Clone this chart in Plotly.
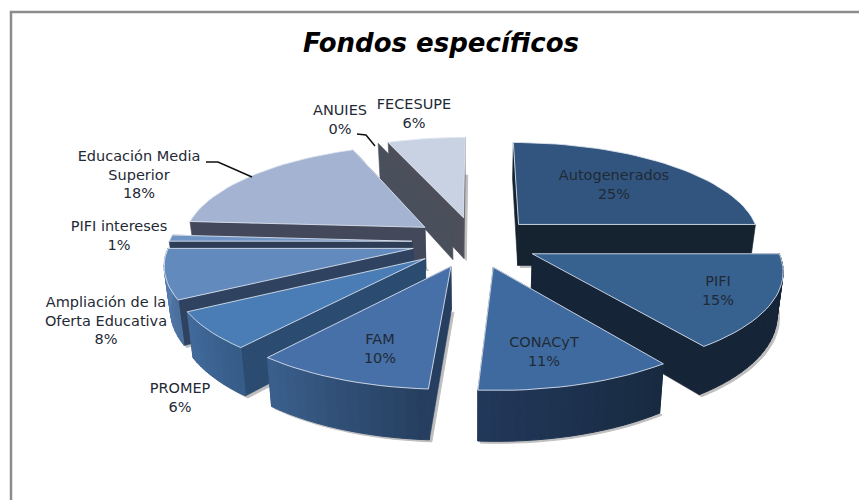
import math
import plotly.graph_objects as go

categorias = ["Autogenerados", "PIFI", "CONACyT", "FAM", "PROMEP",
              "Ampliación de la<br>Oferta Educativa", "PIFI intereses",
              "Educación Media<br>Superior", "ANUIES", "FECESUPE"]
valores = [25, 15, 11, 10, 6, 8, 1, 18, 0, 6]
color_cara = ["#32557f", "#37618f", "#3f6a9f", "#4770a8", "#4a7cb5",
              "#628abd", "#7095c4", "#a3b3d1", "#4a4f5c", "#c8d2e3"]
color_radial = ["#15222f", "#162437", "#1b2c45", "#263f60", "#2b4c70",
                "#2f4360", "#2c3d55", "#43495a", "#4a4f5c", "#4c4f5a"]
lateral_ini = ["#15222f", "#162437", "#22385a", "#3a5f8c", "#416a9a",
               "#5680b2", "#566f90", "#43495a", "#4a4f5c", "#8b93a3"]
lateral_fin = ["#15222f", "#162437", "#172a40", "#263f60", "#365c88",
               "#4a6f9d", "#4a6280", "#43495a", "#4a4f5c", "#8b93a3"]
# label centres (px) for each category
etiqueta_x = [614, 718, 544, 380, 180, 106, 119, 139, 340, 414]
etiqueta_y = [186, 292, 353, 350, 399, 322, 237, 176, 121, 115]

CX, CY, A, B, Q, EXPL, DEPTH, BOT = 475, 242, 243, 98, 0.14, 0.26, 42, 0.98


def proy(u, v, abajo=False):
    w = 1 / (1 - Q * v)
    x, y = A * u * w, B * v * w
    if abajo:
        return CX + x * BOT, CY + y + DEPTH * w
    return CX + x, CY + y


def hexrgb(c):
    return tuple(int(c[i:i + 2], 16) for i in (1, 3, 5))


def mezcla(c1, c2, t):
    a, b = hexrgb(c1), hexrgb(c2)
    return "rgb(%d,%d,%d)" % tuple(round(a[i] + (b[i] - a[i]) * t) for i in range(3))


fig = go.Figure()


def poligono(puntos, relleno, linea=None, ancho=0.6, opacidad=1.0):
    xs = [p[0] for p in puntos] + [puntos[0][0]]
    ys = [p[1] for p in puntos] + [puntos[0][1]]
    fig.add_trace(go.Scatter(x=xs, y=ys, mode="lines", fill="toself", fillcolor=relleno,
                             line=dict(color=linea or relleno, width=ancho),
                             opacity=opacidad, hoverinfo="skip", showlegend=False))


total = sum(valores)
ini = 0.0
rebanadas = []
for i, val in enumerate(valores):
    fin = ini + val / total * 2 * math.pi
    rebanadas.append((i, ini, fin))
    ini = fin

# painter's order: back to front
orden = [0, 9, 8, 7, 6, 5, 4, 1, 3, 2]
BORDE = "rgba(225,232,242,0.85)"
for i in orden:
    _, a0, a1 = rebanadas[i]
    med = (a0 + a1) / 2
    ou, ov = EXPL * math.sin(med), -EXPL * math.cos(med)
    n = max(2, int((a1 - a0) / 0.04))
    angs = [a0 + (a1 - a0) * k / n for k in range(n + 1)]
    rim = [(ou + math.sin(t), ov - math.cos(t)) for t in angs]
    apex = (ou, ov)
    if valores[i] == 0:
        r = rim[0]
        poligono([proy(*apex), proy(*r), proy(*r, True), proy(*apex, True)], color_radial[i])
        continue
    # soft shadow
    sombra = [proy(*apex, True)] + [proy(*p, True) for p in rim]
    poligono([(x + 2.5, y + 2) for x, y in sombra], "#8a8a8a", ancho=1, opacidad=0.55)
    caras = [[apex, rim[0]], [apex, rim[-1]]]
    caras.sort(key=lambda c: c[1][1])
    for p, q in caras:
        poligono([proy(*p), proy(*q), proy(*q, True), proy(*p, True)], color_radial[i])
    for k in range(n):
        # the wall only shows where it faces the viewer
        if -math.cos((angs[k] + angs[k + 1]) / 2) < 0:
            continue
        t = k / max(1, n - 1)
        col = mezcla(lateral_fin[i], lateral_ini[i], t)
        p, q = rim[k], rim[k + 1]
        poligono([proy(*p), proy(*q), proy(*q, True), proy(*p, True)], col, ancho=1)
    poligono([proy(*p) for p in [apex] + rim], color_cara[i], linea=BORDE, ancho=1)

texto = [f"{c}<br>{v}%" for c, v in zip(categorias, valores)]
fig.add_trace(go.Scatter(x=etiqueta_x, y=etiqueta_y, mode="text", text=texto,
                         textfont=dict(family="DejaVu Sans", size=14.5, color="#1f2a36"),
                         hoverinfo="skip", showlegend=False))

guias = [[(206, 162), (218, 162), (252, 177)], [(357, 134), (366, 135), (375, 146)]]
formas = [dict(type="path", path="M11,520 L11,12 L870,12", xref="x", yref="y",
               line=dict(color="#8c8c8c", width=2.5), layer="below")]
for g in guias:
    ruta = "M" + " L".join(f"{x},{y}" for x, y in g)
    formas.append(dict(type="path", path=ruta, xref="x", yref="y",
                       line=dict(color="#111111", width=1.5)))

fig.update_layout(
    width=859, height=500, autosize=False,
    margin=dict(l=0, r=0, t=0, b=0),
    paper_bgcolor="white", plot_bgcolor="white",
    xaxis=dict(range=[0, 859], visible=False, fixedrange=True),
    yaxis=dict(range=[500, 0], visible=False, fixedrange=True),
    shapes=formas,
    annotations=[dict(text="<b><i>Fondos específicos</i></b>", x=441, y=43, xref="x", yref="y",
                      showarrow=False, font=dict(family="DejaVu Sans", size=26, color="#000000"))],
)
fig.write_html("out.html", post_script="document.body.style.margin='0';document.body.style.overflow='hidden';",
               config={"displayModeBar": False})
